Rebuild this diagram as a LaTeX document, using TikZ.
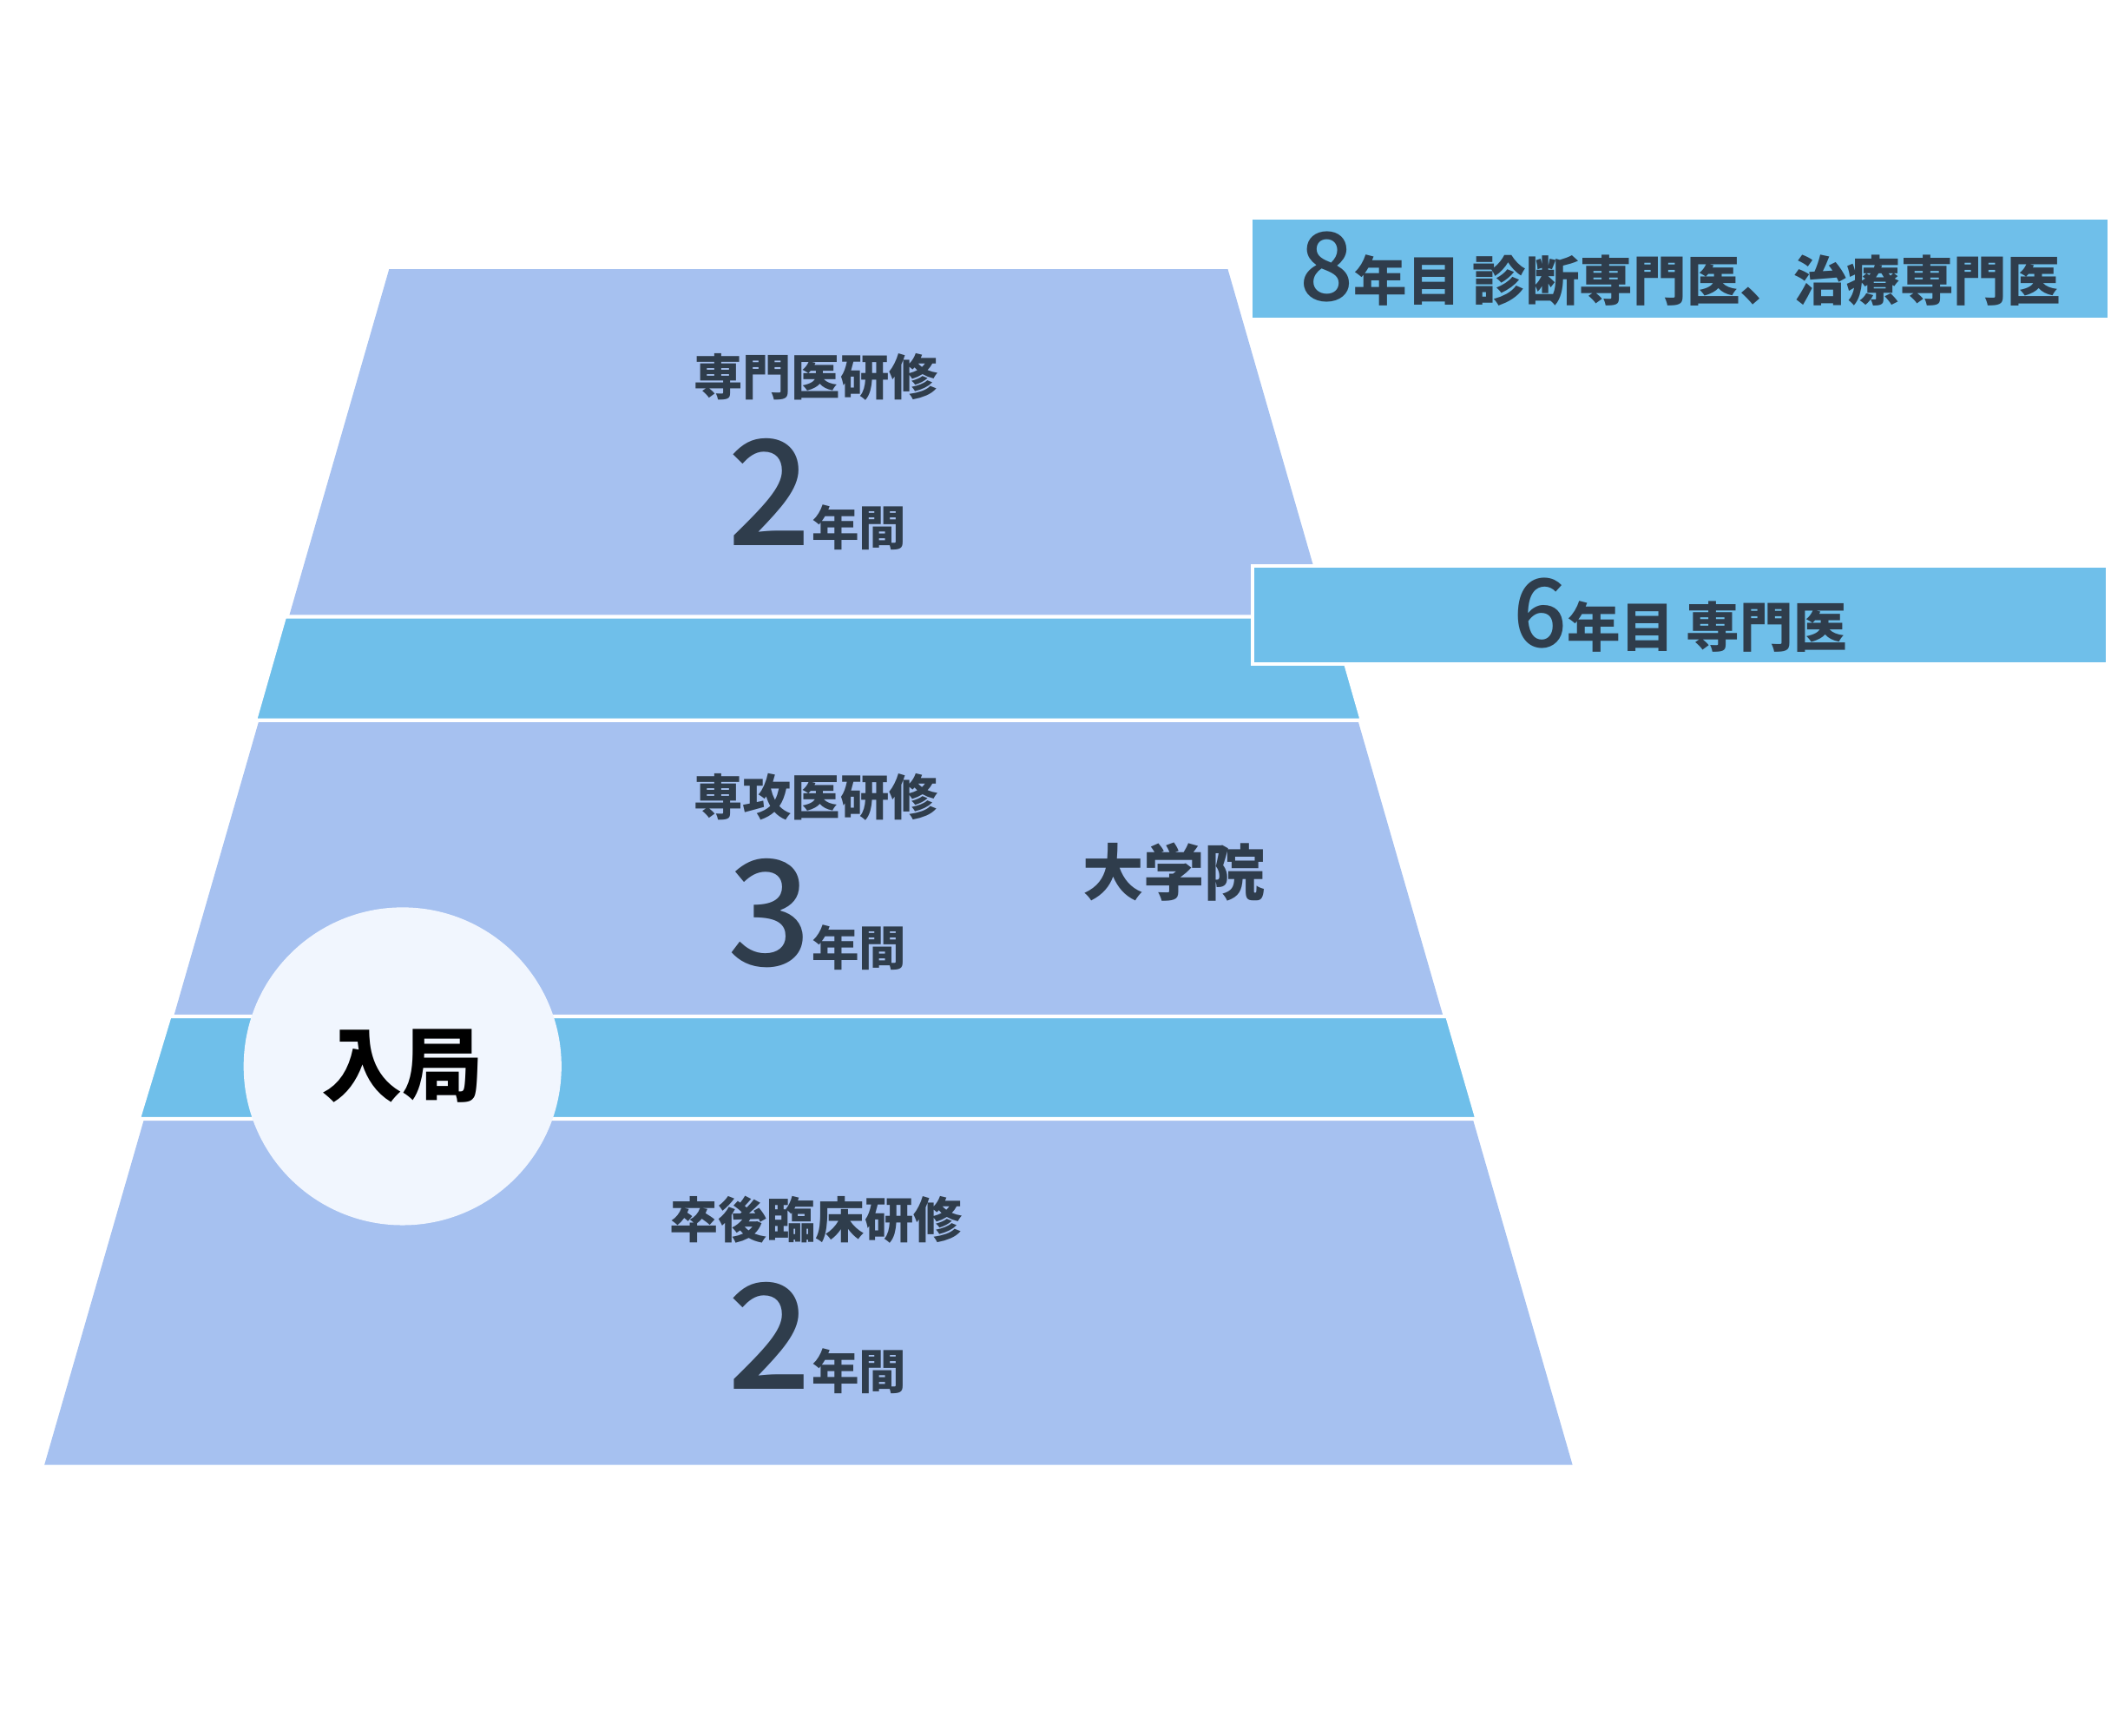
\documentclass[tikz,border=0pt]{standalone}
\usepackage{fontspec}
\setmainfont{Noto Sans CJK JP}
\newfontfamily\numfont{Noto Sans CJK JP Medium}
\definecolor{stageblue}{HTML}{A6C1F0}
\definecolor{bandblue}{HTML}{6FBFEA}
\definecolor{entryfill}{HTML}{F1F6FE}
\definecolor{inkgray}{HTML}{2F3D4C}
\newcommand{\bignum}[2]{{\numfont\mdseries\fontsize{#1}{#1}\selectfont #2}}
\newcommand{\nenkan}[1]{\bignum{48}{#1}{\fontsize{15.5}{16}\selectfont 年間}}

\begin{document}
\begin{tikzpicture}[
    x=0.01551cm, y=-0.01551cm,
    band/.style={fill=bandblue, draw=white, line width=1.2pt},
    title/.style={font=\fontsize{16}{16}\selectfont\bfseries, text=inkgray, inner sep=0pt},
    years/.style={font=\bfseries, text=inkgray, inner sep=0pt, anchor=base},
    milestone/.style={
      fill=bandblue,
      minimum width=9.85cm,
      minimum height=1.13cm,
      inner sep=0pt,
      text=inkgray,
      font=\bfseries
    }
  ]
    \useasboundingbox (0,0) rectangle (1568,1289);
    % pyramid
    \fill[stageblue] (289,200) -- (912,200) -- (1168,1088) -- (33,1088) -- cycle;
    \draw[band] (211.5,458) -- (989.5,458) -- (1011.5,535) -- (189.5,535) -- cycle;
    \draw[band] (126,755) -- (1075,755) -- (1097,831) -- (103,831) -- cycle;
    % milestones
    \node[milestone] (spec8) at (1248,199.5)
      {\bignum{31}{8}{\fontsize{17.5}{18}\selectfont 年目 診断専門医、治療専門医}};
    \node[milestone, draw=white, line width=1.2pt] (spec6) at (1248,457)
      {\bignum{31}{6}{\fontsize{17.5}{18}\selectfont 年目 専門医}};
    \node[circle, fill=entryfill, minimum size=3.66cm, font=\fontsize{26.5}{27}\selectfont\bfseries] (entry) at (299,792) {入局};
    % stages
    \node[title] (senmon) at (606,280) {専門医研修};
    \node[years] (senmonyr) at (607,405) {\nenkan{2}};
    \node[title] (senkou) at (606,592) {専攻医研修};
    \node[years] (senkouyr) at (607,717) {\nenkan{3}};
    \node[title, font=\fontsize{20}{20}\selectfont\bfseries] (daigakuin) at (872,648) {大学院};
    \node[title] (rinshou) at (606,906) {卒後臨床研修};
    \node[years] (rinshouyr) at (607,1032) {\nenkan{2}};
  \end{tikzpicture}
\end{document}
